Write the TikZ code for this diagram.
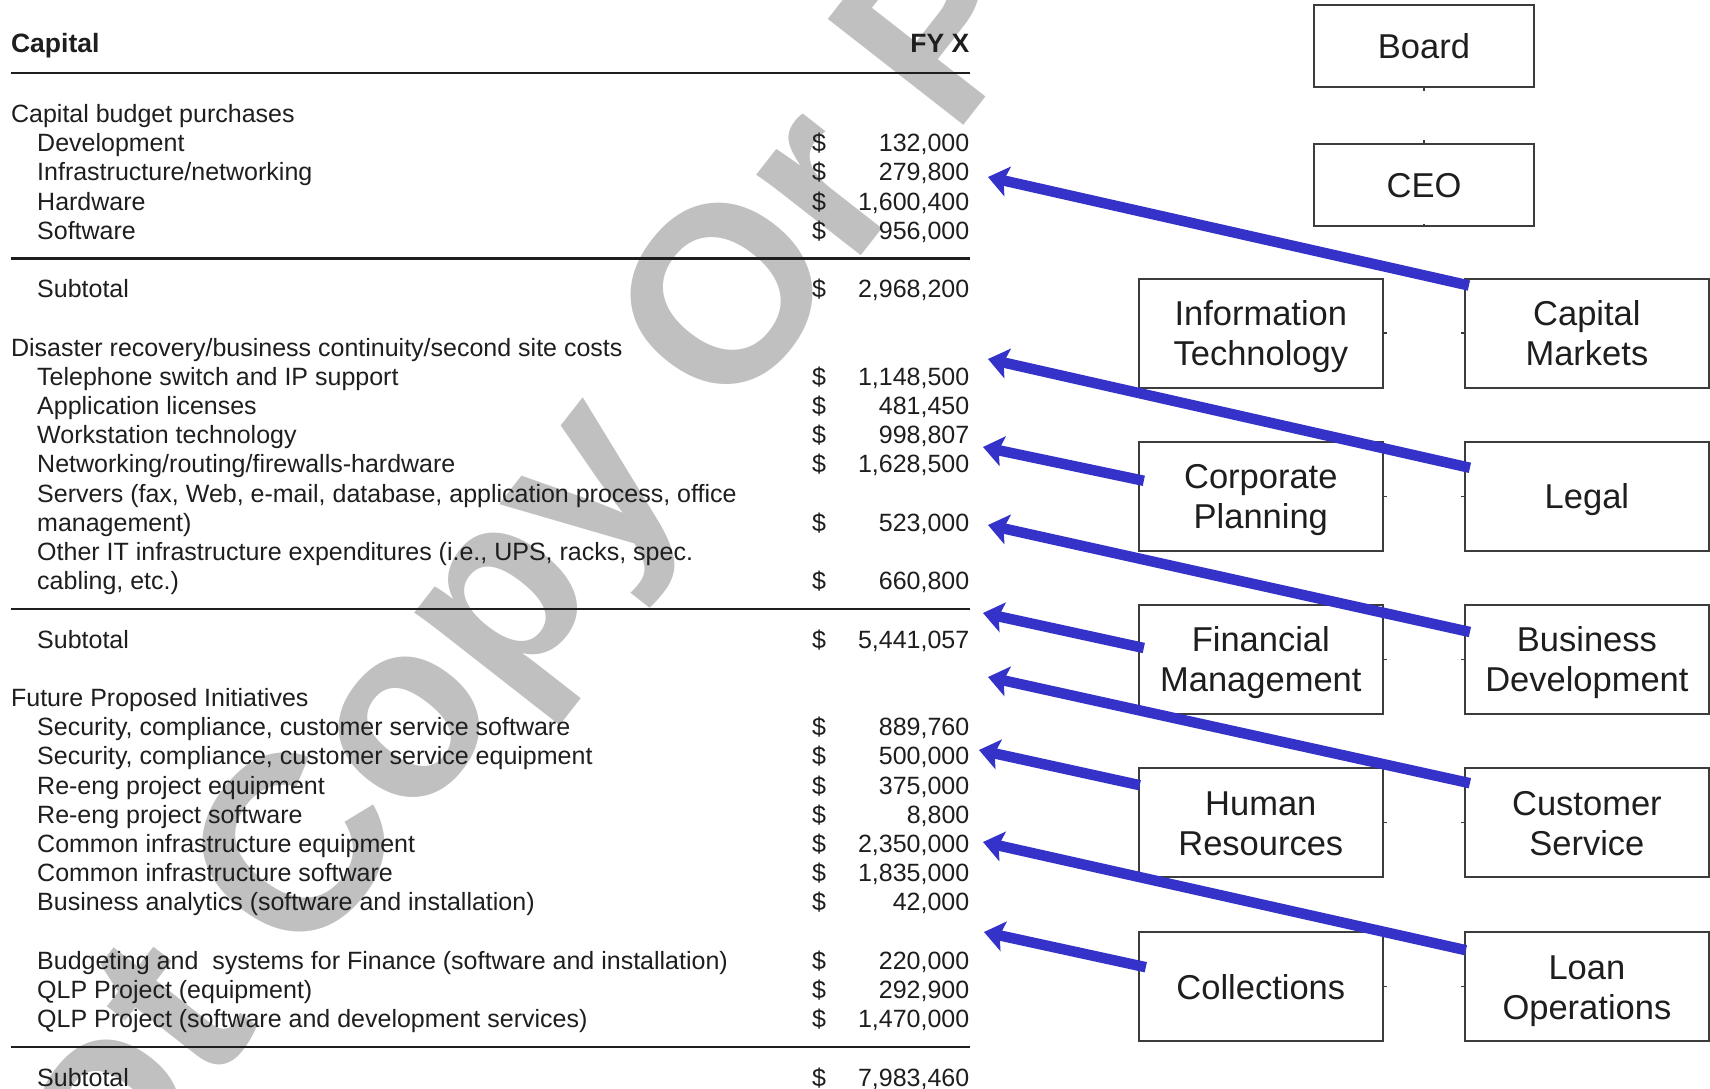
\documentclass[tikz,border=0pt]{standalone}
\usepackage{fontspec}
\setmainfont{Liberation Sans}
\usetikzlibrary{arrows.meta}
\definecolor{arrowblue}{RGB}{52,50,200}
\definecolor{inkc}{RGB}{30,30,30}
\definecolor{boxline}{RGB}{60,60,60}
\definecolor{wmgray}{RGB}{192,192,192}
\newcommand\bxs{\rule[-7.65pt]{0pt}{40pt}}
\begin{document}
\begin{tikzpicture}[x=1pt,y=-1pt,
  lbl/.style={anchor=base west,inner sep=0,text=inkc,font=\fontsize{25}{30}\selectfont},
  dol/.style={anchor=base west,inner sep=0,text=inkc,font=\fontsize{25}{30}\selectfont},
  num/.style={anchor=base east,inner sep=0,text=inkc,font=\fontsize{25}{30}\selectfont},
  hdr/.style={inner sep=0,text=inkc,font=\bfseries\fontsize{26.5}{30}\selectfont},
  rulel/.style={draw=inkc,line width=2.2},
  orgbox/.style={draw=boxline,line width=2,inner sep=0,align=center,text=inkc,
    font=\fontsize{34.5}{40}\selectfont},
  topbox/.style={orgbox,minimum width=220,minimum height=82},
  colbox/.style={orgbox,minimum width=244,minimum height=109},
  stub/.style={draw=boxline,line width=1.5},
  arr/.style={draw=arrowblue,line width=10.5,-{Stealth[length=20pt,width=30pt,inset=4pt]}},
  wm/.style={text=wmgray,font=\bfseries\fontsize{250}{250}\selectfont,inner sep=0}
]
\useasboundingbox (0,0) rectangle (1710,1089);
\fill[white] (0,0) rectangle (1710,1089);

% watermark
\node[wm,rotate=52] (wmark) at (473.3,653.2) {Do Not Copy Or Post};

% header
\node[hdr,anchor=base west] (hcap) at (10.9,52.6) {Capital};
\node[hdr,anchor=base east] (hfy) at (969.5,52.6) {FY X};
\draw[rulel] (10.9,73.1) -- (969.5,73.1);

% section 1
\node[lbl] (s1) at (10.9,{122.4+29.2*0}) {Capital budget purchases};
\node[lbl] (a1) at (37,{122.4+29.2*1}) {Development};
\node[lbl] (a2) at (37,{122.4+29.2*2}) {Infrastructure/networking};
\node[lbl] (a3) at (37,{122.4+29.2*3}) {Hardware};
\node[lbl] (a4) at (37,{122.4+29.2*4}) {Software};
\draw[rulel] (10.9,258.5) -- (969.5,258.5);
\node[lbl] (st1) at (37,{122.4+29.2*6}) {Subtotal};

% section 2
\node[lbl] (s2) at (10.9,{122.4+29.2*8}) {Disaster recovery/business continuity/second site costs};
\node[lbl] (b1) at (37,{122.4+29.2*9}) {Telephone switch and IP support};
\node[lbl] (b2) at (37,{122.4+29.2*10}) {Application licenses};
\node[lbl] (b3) at (37,{122.4+29.2*11}) {Workstation technology};
\node[lbl] (b4) at (37,{122.4+29.2*12}) {Networking/routing/firewalls-hardware};
\node[lbl] (b5) at (37,{122.4+29.2*13}) {Servers (fax, Web, e-mail, database, application process, office};
\node[lbl] (b5b) at (37,{122.4+29.2*14}) {management)};
\node[lbl] (b6) at (37,{122.4+29.2*15}) {Other IT infrastructure expenditures (i.e., UPS, racks, spec.};
\node[lbl] (b6b) at (37,{122.4+29.2*16}) {cabling, etc.)};
\draw[rulel] (10.9,608.6) -- (969.5,608.6);
\node[lbl] (st2) at (37,{122.4+29.2*18}) {Subtotal};

% section 3
\node[lbl] (s3) at (10.9,{122.4+29.2*20}) {Future Proposed Initiatives};
\node[lbl] (c1) at (37,{122.4+29.2*21}) {Security, compliance, customer service software};
\node[lbl] (c2) at (37,{122.4+29.2*22}) {Security, compliance, customer service equipment};
\node[lbl] (c3) at (37,{122.4+29.2*23}) {Re-eng project equipment};
\node[lbl] (c4) at (37,{122.4+29.2*24}) {Re-eng project software};
\node[lbl] (c5) at (37,{122.4+29.2*25}) {Common infrastructure equipment};
\node[lbl] (c6) at (37,{122.4+29.2*26}) {Common infrastructure software};
\node[lbl] (c7) at (37,{122.4+29.2*27}) {Business analytics (software and installation)};
\node[lbl] (c8) at (37,{122.4+29.2*29}) {Budgeting and\ \ systems for Finance (software and installation)};
\node[lbl] (c9) at (37,{122.4+29.2*30}) {QLP Project (equipment)};
\node[lbl] (c10) at (37,{122.4+29.2*31}) {QLP Project (software and development services)};
\draw[rulel] (10.9,1047) -- (969.5,1047);
\node[lbl] (st3) at (37,{122.4+29.2*33}) {Subtotal};

% dollar signs and amounts
\foreach \k/\v in {1/132{,}000,2/279{,}800,3/1{,}600{,}400,4/956{,}000,6/2{,}968{,}200,
  9/1{,}148{,}500,10/481{,}450,11/998{,}807,12/1{,}628{,}500,14/523{,}000,16/660{,}800,18/5{,}441{,}057,
  21/889{,}760,22/500{,}000,23/375{,}000,24/8{,}800,25/2{,}350{,}000,26/1{,}835{,}000,27/42{,}000,
  29/220{,}000,30/292{,}900,31/1{,}470{,}000,33/7{,}983{,}460}{
  \node[dol] (d\k) at (812,{122.4+29.2*\k}) {\$};
  \node[num] (n\k) at (969.5,{122.4+29.2*\k}) {\v};
}

% org chart
\node[topbox] (board) at (1424,46.5) {Board\bxs};
\node[topbox] (ceo) at (1424,185) {CEO\bxs};
\node[colbox] (it) at (1260.8,333) {Information\bxs\\Technology\bxs};
\node[colbox] (cm) at (1586.9,333) {Capital\bxs\\Markets\bxs};
\node[colbox] (cp) at (1260.8,496.3) {Corporate\bxs\\Planning\bxs};
\node[colbox] (legal) at (1586.9,496.3) {Legal\bxs};
\node[colbox] (fm) at (1260.8,659.5) {Financial\bxs\\Management\bxs};
\node[colbox] (bd) at (1586.9,659.5) {Business\bxs\\Development\bxs};
\node[colbox] (hr) at (1260.8,822.7) {Human\bxs\\Resources\bxs};
\node[colbox] (cs) at (1586.9,822.7) {Customer\bxs\\Service\bxs};
\node[colbox] (col) at (1260.8,986.7) {Collections\bxs};
\node[colbox] (lo) at (1586.9,986.7) {Loan\bxs\\Operations\bxs};

% small connector stubs left on the boxes
\draw[stub] (board.south) -- ++(0,3);
\draw[stub] (ceo.north) -- ++(0,-3);
\draw[stub] (ceo.south) -- ++(0,-3);
\foreach \n in {it,cp,fm,hr,col}{\draw[stub] (\n.east) -- ++(3,0);}
\foreach \n in {cm,legal,bd,cs,lo}{\draw[stub] (\n.west) -- ++(-3,0);}

% arrow targets
\coordinate (h1) at (988,177);
\coordinate (h2) at (988,359);
\coordinate (h3) at (983,447);
\coordinate (h4) at (988,525);
\coordinate (h5) at (983,613);
\coordinate (h6) at (988,677);
\coordinate (h7) at (979,750);
\coordinate (h8) at (983,842);
\coordinate (h9) at (984,932);

% arrows
\draw[arr] ([shift={(5,8)}]cm.north west) -- (h1);
\draw[arr] ([shift={(6,27)}]legal.north west) -- (h2);
\draw[arr] ([shift={(6,40)}]cp.north west) -- (h3);
\draw[arr] ([shift={(6,28)}]bd.north west) -- (h4);
\draw[arr] ([shift={(6,44)}]fm.north west) -- (h5);
\draw[arr] ([shift={(6,16)}]cs.north west) -- (h6);
\draw[arr] ([shift={(2,18)}]hr.north west) -- (h7);
\draw[arr] ([shift={(2,19)}]lo.north west) -- (h8);
\draw[arr] ([shift={(8,36)}]col.north west) -- (h9);
\end{tikzpicture}
\end{document}
